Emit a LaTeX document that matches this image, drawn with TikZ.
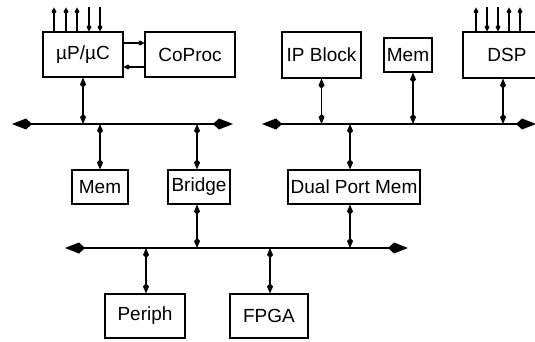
\documentclass[tikz,border=0pt]{standalone}
\usepackage{fontspec}
\setmainfont{Liberation Sans}
\usetikzlibrary{arrows.meta}
\begin{document}
\begin{tikzpicture}[x=1pt,y=-1pt,
  box/.style={draw,line width=1.1pt,inner sep=0pt,font=\fontsize{19}{21}\selectfont},
  bus/.style={line width=2.5pt,{Kite[length=20pt,width=11pt,inset=6pt]}-{Kite[length=20pt,width=11pt,inset=6pt]}},
  link/.style={line width=1.3pt,{Kite[length=10pt,width=6pt,inset=3pt]}-{Kite[length=10pt,width=6pt,inset=3pt]}},
  pin/.style={line width=1.2pt,-{Kite[length=7pt,width=5pt,inset=2.5pt]}}]
\useasboundingbox (0,0) rectangle (535,342);
\clip (0,0) rectangle (535,342);
% boxes
\node[box,minimum width=80pt,minimum height=45pt] (up) at (83,54.5) {µP/µC};
\node[box,minimum width=90pt,minimum height=45pt] (cop) at (190,54.5) {CoProc};
\node[box,minimum width=79pt,minimum height=46pt] (ip) at (321.5,55) {IP Block};
\node[box,minimum width=48pt,minimum height=34pt] (memt) at (408,55) {Mem};
\node[box,minimum width=88pt,minimum height=46pt,text width=88pt,align=center] (dsp) at (507,55) {DSP};
\node[box,minimum width=56pt,minimum height=34pt] (meml) at (100,187) {Mem};
\node[box,minimum width=62pt,minimum height=34pt] (br) at (199,187) {Bridge};
\node[box,minimum width=132pt,minimum height=34pt] (dpm) at (354,187) {Dual Port Mem};
\node[box,minimum width=80pt,minimum height=44pt] (per) at (145,316) {Periph};
\node[box,minimum width=78pt,minimum height=44pt] (fpga) at (269,316) {FPGA};
% buses
\coordinate (l1) at (12,124);
\coordinate (l2) at (233,124);
\coordinate (r1) at (262,124);
\coordinate (r2) at (536,124);
\coordinate (b1) at (65,248);
\coordinate (b2) at (408,248);
\draw[bus] (l1) -- (l2);
\draw[bus] (r1) -- (r2);
\draw[bus] (b1) -- (b2);
% links
\draw[link] (up.south) -- (up.south |- l1);
\draw[link] (meml.north |- l1) -- (meml.north);
\draw[link] ([xshift=-2pt]br.north |- l1) -- ([xshift=-2pt]br.north);
\draw[link] ([xshift=-2pt]br.south) -- ([xshift=-2pt]br.south |- b1);
\draw[link] (ip.south) -- (ip.south |- r1);
\draw[link] ([xshift=5pt]memt.south) -- ([xshift=5pt]memt.south |- r1);
\draw[link] ([xshift=-4pt]dsp.south) -- ([xshift=-4pt]dsp.south |- r1);
\draw[link] ([xshift=-4pt]dpm.north |- r1) -- ([xshift=-4pt]dpm.north);
\draw[link] ([xshift=-4pt]dpm.south) -- ([xshift=-4pt]dpm.south |- b1);
\draw[link] ([xshift=1pt]per.north |- b1) -- ([xshift=1pt]per.north);
\draw[link] ([xshift=1pt]fpga.north |- b1) -- ([xshift=1pt]fpga.north);
% uP/CoProc
\draw[pin] ([yshift=11.5pt]up.east) -- ([yshift=11.5pt]cop.west);
\draw[pin] ([yshift=-12.5pt]cop.west) -- ([yshift=-12.5pt]up.east);
% pins uP
\draw[pin] ([xshift=-29pt]up.north) -- ++(0,-24);
\draw[pin] ([xshift=-17pt]up.north) -- ++(0,-24);
\draw[pin] ([xshift=-6pt]up.north) -- ++(0,-24);
\draw[pin] ([xshift=6pt,yshift=24pt]up.north) -- ([xshift=6pt]up.north);
\draw[pin] ([xshift=17pt,yshift=24pt]up.north) -- ([xshift=17pt]up.north);
% pins DSP
\draw[pin] ([xshift=-31pt]dsp.north) -- ++(0,-24);
\draw[pin] ([xshift=-20pt,yshift=24pt]dsp.north) -- ([xshift=-20pt]dsp.north);
\draw[pin] ([xshift=-9pt,yshift=24pt]dsp.north) -- ([xshift=-9pt]dsp.north);
\draw[pin] ([xshift=2pt]dsp.north) -- ++(0,-24);
\draw[pin] ([xshift=13pt]dsp.north) -- ++(0,-24);
\end{tikzpicture}
\end{document}
